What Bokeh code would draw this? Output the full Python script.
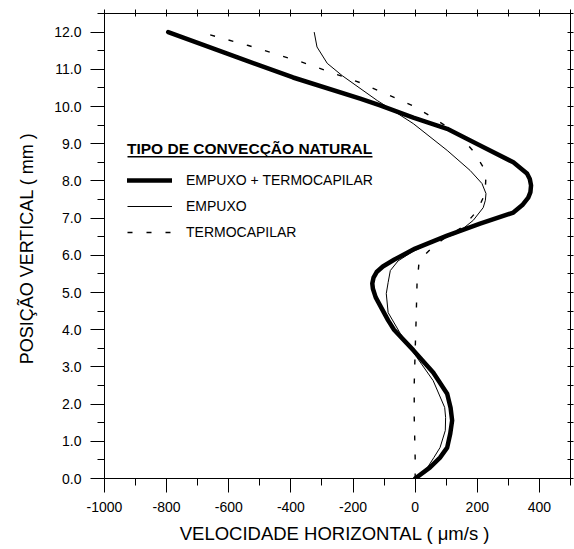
from bokeh.plotting import figure
from bokeh.models import (Range1d, LinearAxis, FixedTicker, Legend, LegendItem,
                          BoxAnnotation, CustomJSTickFormatter)
from bokeh.embed import file_html
from bokeh.resources import INLINE

# ---- data ----
# EMPUXO + TERMOCAPILAR (thick)
y_both = [0.0, 0.3, 0.56, 0.83, 1.21, 1.56, 1.9, 2.28, 2.85, 3.45, 4.0, 4.25,
          4.87, 5.1, 5.24, 5.4, 5.55, 5.7, 5.88, 6.18, 6.53, 6.85, 7.15, 7.35,
          7.55, 7.7, 7.88, 8.05, 8.2, 8.5, 8.95, 9.4, 9.7, 10.03, 10.21, 10.78,
          11.42, 12.0]
v_both = [0, 48, 80, 103, 113, 119, 114, 103, 58, -6, -68, -87,
          -127, -136, -138, -134, -124, -104, -68, 0, 103, 209, 316, 345,
          364, 371, 373, 369, 360, 316, 209, 103, -6, -113, -177, -393,
          -605, -795]

# EMPUXO (thin)
y_emp = [0.0, 0.3, 0.56, 0.83, 1.29, 1.64, 1.91, 2.63, 3.25, 3.9, 4.46, 4.97,
         5.27, 5.59, 5.85, 6.1, 6.32, 6.59, 6.94, 7.28, 7.48, 7.66, 7.93, 8.28,
         8.82, 9.54, 9.89, 10.16, 10.83, 11.16, 11.6, 12.0]
v_emp = [0, 40, 60, 80, 97, 98, 95, 58, 6, -48, -87, -93,
         -87, -80, -55, -8, 48, 135, 187, 219, 226, 228, 215, 177,
         103, -6, -71, -122, -235, -283, -316, -325]

# TERMOCAPILAR (dashed)
y_tc = [0.0, 0.56, 1.64, 2.55, 3.44, 4.25, 5.24, 5.86, 6.21, 6.48, 6.77, 7.2,
        7.66, 8.15, 8.33, 8.77, 9.17, 9.4, 9.76, 10.03, 10.21, 10.64, 11.18,
        11.64, 12.0]
v_tc = [0, 0, -3, -3, 0, 3, 6, 13, 55, 97, 155, 200,
        225, 228, 222, 190, 148, 113, 45, -10, -58, -177, -360,
        -537, -692]

labels = ["EMPUXO + TERMOCAPILAR", "EMPUXO", "TERMOCAPILAR"]
legend_title = "TIPO DE CONVECÇÃO NATURAL"
x_title = "VELOCIDADE HORIZONTAL  ( μm/s )"
y_title = "POSIÇÃO VERTICAL  ( mm )"

x_major = [-1000, -800, -600, -400, -200, 0, 200, 400]
x_minor = [-900, -700, -500, -300, -100, 100, 300, 500]
x_top = [-1000, -900, -800, -700, -600, -500, -400, -300, -200, -100,
         0, 100, 200, 300, 400, 500]
y_major = [0.0, 1.0, 2.0, 3.0, 4.0, 5.0, 6.0, 7.0, 8.0, 9.0, 10.0, 11.0, 12.0]
y_minor = [0.5, 1.5, 2.5, 3.5, 4.5, 5.5, 6.5, 7.5, 8.5, 9.5, 10.5, 11.5, 12.5]
y_right = sorted(y_major + y_minor)

FONT = "Liberation Sans"

p = figure(width=574, height=549, output_backend="svg", toolbar_location=None,
           x_range=Range1d(-1000, 500), y_range=Range1d(0, 12.5),
           min_border_left=104, min_border_right=4, min_border_top=13,
           min_border_bottom=71)
p.outline_line_color = None
p.grid.visible = False
p.background_fill_color = "white"
p.border_fill_color = "white"

# bottom axis
xa = p.xaxis[0]
xa.ticker = FixedTicker(ticks=x_major, minor_ticks=x_minor)
xa.formatter = CustomJSTickFormatter(code="return tick.toFixed(0);")
xa.major_tick_out = 14
xa.major_tick_in = 0
xa.minor_tick_out = 7
xa.minor_tick_in = 0
xa.axis_line_color = "black"
xa.major_tick_line_color = "black"
xa.minor_tick_line_color = "black"
xa.major_label_text_font = FONT
xa.major_label_text_font_size = "14px"
xa.major_label_text_color = "black"
xa.major_label_standoff = 9
xa.axis_label = x_title
xa.axis_label_text_font = FONT
xa.axis_label_text_font_size = "18.5px"
xa.axis_label_text_font_style = "normal"
xa.axis_label_text_color = "black"
xa.axis_label_standoff = 8

# left axis
ya = p.yaxis[0]
ya.ticker = FixedTicker(ticks=y_major, minor_ticks=y_minor)
ya.formatter = CustomJSTickFormatter(code="return tick.toFixed(1);")
ya.major_tick_out = 14
ya.major_tick_in = 0
ya.minor_tick_out = 7
ya.minor_tick_in = 0
ya.axis_line_color = "black"
ya.major_tick_line_color = "black"
ya.minor_tick_line_color = "black"
ya.major_label_text_font = FONT
ya.major_label_text_font_size = "14px"
ya.major_label_text_color = "black"
ya.major_label_standoff = 9
ya.axis_label = y_title
ya.axis_label_text_font = FONT
ya.axis_label_text_font_size = "18px"
ya.axis_label_text_font_style = "normal"
ya.axis_label_text_color = "black"
ya.axis_label_standoff = 14

blank = CustomJSTickFormatter(code="return '';")
top = LinearAxis(ticker=FixedTicker(ticks=x_top, minor_ticks=[]), formatter=blank,
                 major_tick_in=3, major_tick_out=4, minor_tick_in=0, minor_tick_out=0,
                 major_label_text_font_size="0px", major_label_standoff=0,
                 axis_line_color="black", major_tick_line_color="black")
p.add_layout(top, "above")
right = LinearAxis(ticker=FixedTicker(ticks=y_right, minor_ticks=[]), formatter=blank,
                   major_tick_in=3, major_tick_out=3, minor_tick_in=0, minor_tick_out=0,
                   major_label_text_font_size="0px", major_label_standoff=0,
                   axis_line_color="black", major_tick_line_color="black")
p.add_layout(right, "right")

r_tc = p.line(v_tc, y_tc, line_color="black", line_width=1.4, line_dash="5 14")
r_emp = p.line(v_emp, y_emp, line_color="black", line_width=1.0, line_join="round")
r_both = p.line(v_both, y_both, line_color="black", line_width=4.5,
                line_join="round", line_cap="round")

legend = Legend(items=[LegendItem(label=labels[0], renderers=[r_both]),
                       LegendItem(label=labels[1], renderers=[r_emp]),
                       LegendItem(label=labels[2], renderers=[r_tc])],
                title=legend_title, location=(23, 236),
                title_text_font=FONT, title_text_font_style="bold",
                title_text_font_size="15.5px", title_text_color="black",
                title_standoff=12,
                label_text_font=FONT, label_text_font_size="14px",
                label_text_color="black",
                glyph_width=45, glyph_height=20, label_height=20,
                label_standoff=14, spacing=6, padding=0, margin=0,
                border_line_color=None, background_fill_alpha=0)
p.add_layout(legend)

underline = BoxAnnotation(left=127, right=372, top=155.5, bottom=157,
                          left_units="canvas", right_units="canvas",
                          top_units="canvas", bottom_units="canvas",
                          fill_color="black", fill_alpha=1, line_color=None)
p.add_layout(underline)

open("out.html", "w").write(file_html(p, INLINE))
